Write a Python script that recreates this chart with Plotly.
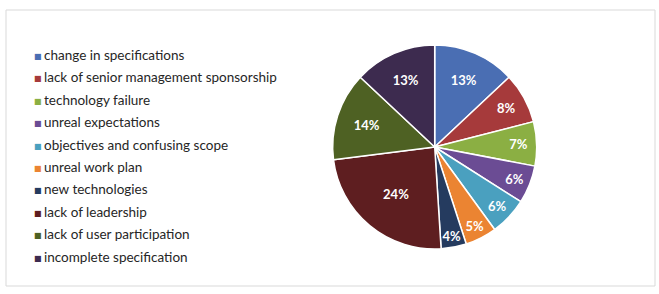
import plotly.graph_objects as go

labels = ["change in specifications", "lack of senior management sponsorship",
          "technology failure", "unreal expectations", "objectives and confusing scope",
          "unreal work plan", "new technologies", "lack of leadership",
          "lack of user participation", "incomplete specification"]
values = [13, 8, 7, 6, 6, 5, 4, 24, 14, 13]
colors = ["#4A6EB3", "#A63A3B", "#8BAF43", "#6B4C94", "#4AA0BF",
          "#EB8432", "#253B5F", "#5E1E20", "#4E6123", "#3D2B4F"]

W, H = 659, 294
fig = go.Figure(go.Pie(
    labels=labels, values=values, sort=False, direction="clockwise", rotation=0,
    marker=dict(colors=colors, line=dict(color="white", width=1.5)),
    texttemplate="%{percent:.0%}", textposition="inside",
    insidetextorientation="horizontal",
    textfont=dict(family="Lato", size=13, color="white", weight="bold"),
    domain=dict(x=[(434.7 - 102) / W, (434.7 + 102) / W], y=[45 / H, 249 / H]),
    hoverinfo="label+percent", showlegend=False,
))

# legend drawn as text entries (swatch + label)
annotations = []
for i, (lab, col) in enumerate(zip(labels, colors)):
    yc = 1 - (55 + i * 22.4) / H
    annotations.append(dict(xref="paper", yref="paper", x=32 / W, y=yc - 1.5 / H,
                            xanchor="left", yanchor="middle", showarrow=False,
                            text="■", font=dict(family="DejaVu Sans", size=8, color=col)))
    annotations.append(dict(xref="paper", yref="paper", x=42 / W, y=yc,
                            xanchor="left", yanchor="middle", showarrow=False,
                            text=lab, font=dict(family="Lato", size=13.5, color="#262626")))

fig.update_layout(
    width=W, height=H, margin=dict(l=0, r=0, t=0, b=0),
    paper_bgcolor="white", plot_bgcolor="white",
    uniformtext=dict(minsize=13, mode="show"),
    annotations=annotations,
    shapes=[dict(type="rect", xref="paper", yref="paper",
                 x0=6 / W, x1=655 / W, y0=1 - 286 / H, y1=1 - 10 / H,
                 line=dict(color="#D9D9D9", width=1), fillcolor="rgba(0,0,0,0)")],
)
fig.write_html("out.html")
